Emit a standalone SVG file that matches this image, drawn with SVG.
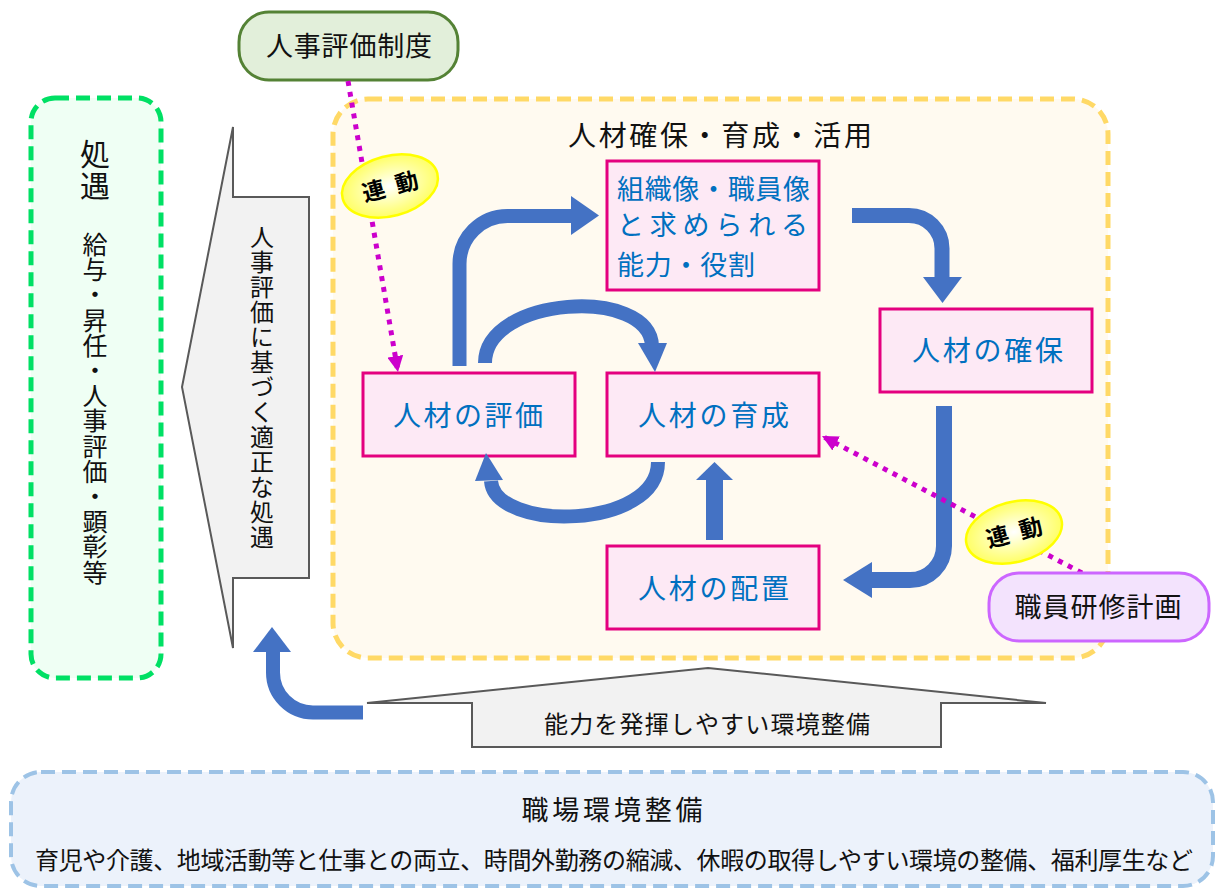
<svg xmlns="http://www.w3.org/2000/svg" width="1219" height="888" viewBox="0 0 1219 888">
<style>
text{font-family:"Noto Sans CJK JP","Noto Sans",sans-serif;fill:#111;}
.vt{writing-mode:vertical-rl;text-orientation:upright;}
.blue{fill:#0070c0;}
.pink{fill:#fde9f5;stroke:#e4007f;stroke-width:3;}
.shaft{fill:none;stroke:#4472c4;stroke-width:14;}
.head{fill:#4472c4;stroke:none;}
.dot{fill:none;stroke:#cc00cc;stroke-width:5;stroke-dasharray:5 6;}
.gray{fill:#f2f2f2;stroke:#595959;stroke-width:2;}
.link{fill:url(#yg);stroke:#ffff00;stroke-width:2.5;}
.lk{font-weight:bold;font-size:23px;fill:#000;}
</style>
<defs>
<radialGradient id="yg" cx="50%" cy="50%" r="50%">
<stop offset="0" stop-color="#ffffff"/>
<stop offset="1" stop-color="#ffff66"/>
</radialGradient>
<marker id="mh" viewBox="0 0 16 16" refX="16" refY="8" markerWidth="16" markerHeight="16" markerUnits="userSpaceOnUse" orient="auto">
<path d="M0,0 L16,8 L0,16 z" fill="#cc00cc"/>
</marker>
</defs>

<g id="env-box">
<rect x="11" y="772" width="1202" height="114" rx="30" fill="#ecf2fb" stroke="#9dc3e6" stroke-width="4" stroke-dasharray="14 7"/>
<text x="612" y="820" font-size="27" text-anchor="middle" textLength="181">職場環境整備</text>
<text x="35" y="869" font-size="24" textLength="1158">育児や介護、地域活動等と仕事との両立、時間外勤務の縮減、休暇の取得しやすい環境の整備、福利厚生など</text>
</g>

<g id="treatment-box">
<rect x="31" y="98" width="130" height="580" rx="24" fill="#effff4" stroke="#00e064" stroke-width="5" stroke-dasharray="14 7"/>
<text class="vt" x="95" y="139" font-size="30" letter-spacing="2">処遇</text>
<text class="vt" x="95" y="232" font-size="25" letter-spacing="0.2">給与・昇任・人事評価・顕彰等</text>
</g>

<g id="fair-treatment-arrow">
<polygon class="gray" points="233,127 233,197 309,197 309,578 233,578 233,648 182,387"/>
<text class="vt" x="262" y="225" font-size="24" letter-spacing="1">人事評価に基づく適正な処遇</text>
</g>

<g id="hr-area">
<rect x="333" y="99" width="775" height="559" rx="35" fill="#fffaf0" stroke="#ffd966" stroke-width="5" stroke-dasharray="14 7"/>
<text x="568" y="146" font-size="28" textLength="304">人材確保・育成・活用</text>
</g>

<g id="env-arrow">
<polygon class="gray" points="708,668 1046,703 941,703 941,747 472,747 472,703 367,703"/>
<text x="707" y="733" font-size="24" text-anchor="middle" textLength="326">能力を発揮しやすい環境整備</text>
</g>

<g id="hr-eval-system">
<rect x="239" y="12" width="219" height="68" rx="30" fill="#e2efda" stroke="#548235" stroke-width="3"/>
<text x="349" y="56" font-size="27" text-anchor="middle" textLength="166">人事評価制度</text>
</g>

<g id="org-image">
<rect class="pink" x="607" y="161" width="212" height="129"/>
<text class="blue" x="617" y="199" font-size="27" textLength="193">組織像・職員像</text>
<text class="blue" x="617" y="235" font-size="27" textLength="191">と求められる</text>
<text class="blue" x="617" y="275" font-size="27" textLength="138">能力・役割</text>
</g>

<g id="securing">
<rect class="pink" x="880" y="309" width="212" height="83"/>
<text class="blue" x="987.5" y="361" font-size="28" text-anchor="middle" textLength="151">人材の確保</text>
</g>

<g id="evaluation">
<rect class="pink" x="363" y="373" width="212" height="83"/>
<text class="blue" x="468" y="426" font-size="28" text-anchor="middle" textLength="150">人材の評価</text>
</g>

<g id="development">
<rect class="pink" x="607" y="373" width="212" height="83"/>
<text class="blue" x="713.5" y="426" font-size="28" text-anchor="middle" textLength="151">人材の育成</text>
</g>

<g id="placement">
<rect class="pink" x="607" y="546" width="212" height="83"/>
<text class="blue" x="713.5" y="599" font-size="28" text-anchor="middle" textLength="151">人材の配置</text>
</g>

<g id="connectors">
<path class="shaft" d="M459.5,366 V264 A48,48 0 0 1 507.5,216 H573"/>
<polygon class="head" points="571,196 599,215.5 571,235"/>
<path class="shaft" d="M485,363 C485,296 650,286 652,346"/>
<polygon class="head" points="638,343 667,343 655,372"/>
<path class="shaft" d="M658,462 C658,530 495,532 491,481"/>
<polygon class="head" points="475,481 503,480 486,453"/>
<path class="shaft" style="stroke-width:17" d="M714.5,540 V478"/>
<polygon class="head" points="696,480 733,480 714.5,462"/>
<path class="shaft" style="stroke-width:15" d="M852,215.5 H909 A33,33 0 0 1 942,248.5 V279"/>
<polygon class="head" points="923,277 962,277 942.5,303"/>
<path class="shaft" style="stroke-width:16" d="M944,406 V546 A34,34 0 0 1 910,580 H870"/>
<polygon class="head" points="872,562 872,598 843,580"/>
<path class="shaft" d="M363,712.5 H313 A40,40 0 0 1 273,672.5 V650"/>
<polygon class="head" points="253,652 291,652 272,627"/>
<path class="dot" d="M348,81 L398,372" marker-end="url(#mh)"/>
<path class="dot" d="M1082,573 L822,436" marker-end="url(#mh)"/>
</g>

<g id="link1" transform="translate(390,186) rotate(-15)">
<ellipse class="link" cx="0" cy="0" rx="49" ry="30"/>
<text class="lk" text-anchor="middle"><tspan x="-17" y="9">連</tspan><tspan x="17" y="9">動</tspan></text>
</g>

<g id="link2" transform="translate(1014,532) rotate(-15)">
<ellipse class="link" cx="0" cy="0" rx="49" ry="30"/>
<text class="lk" text-anchor="middle"><tspan x="-17" y="9">連</tspan><tspan x="17" y="9">動</tspan></text>
</g>

<g id="training-plan">
<rect x="989" y="573" width="220" height="68" rx="30" fill="#f3e3fd" stroke="#cc66ff" stroke-width="3"/>
<text x="1098" y="617" font-size="27" text-anchor="middle" textLength="167">職員研修計画</text>
</g>
</svg>
